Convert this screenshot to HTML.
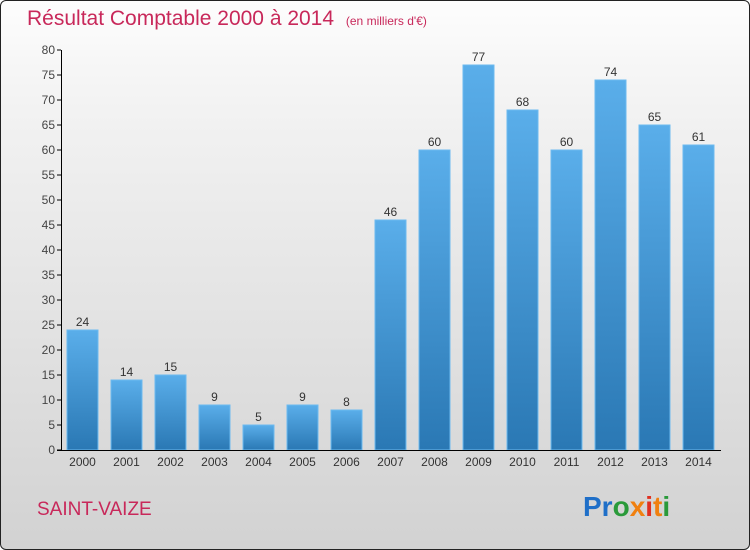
<!DOCTYPE html>
<html><head><meta charset="utf-8"><style>
body{margin:0}
#c{position:relative;width:748px;height:548px;border:1px solid #222;border-radius:6px;background:linear-gradient(#fdfdfd,#f2f2f2 20%,#d2d2d2);overflow:hidden;font-family:"Liberation Sans",sans-serif}
</style></head><body>
<div id="c">
<svg width="748" height="548" id="svg">
<defs><linearGradient id="bg" x1="0" y1="0" x2="0" y2="1"><stop offset="0" stop-color="#5aaeea"/><stop offset="1" stop-color="#2a78b4"/></linearGradient></defs>
<text x="26" y="24" font-size="21" fill="#c8285a">Résultat Comptable 2000 à 2014 <tspan font-size="12" dx="6">(en milliers d'€)</tspan></text>
<text x="36" y="514" font-size="19" fill="#c8285a">SAINT-VAIZE</text>
<text x="582" y="515" font-size="28" font-weight="bold"><tspan fill="#1f6fc8">Pr</tspan><tspan fill="#2a9a3a">o</tspan><tspan fill="#f08010">x</tspan><tspan fill="#1f6fc8"></tspan><tspan fill="#e03020">i</tspan><tspan fill="#f08010">t</tspan><tspan fill="#2a9a3a">i</tspan></text>
<g id="g"></g>
</svg></div>
<script>
const years=["2000","2001","2002","2003","2004","2005","2006","2007","2008","2009","2010","2011","2012","2013","2014"];
const values=[24,14,15,9,5,9,8,46,60,77,68,60,74,65,61];
const yTicks=[0,5,10,15,20,25,30,35,40,45,50,55,60,65,70,75,80];
const NS="http://www.w3.org/2000/svg",g=document.getElementById('g');
const y=v=>449-v*5, x=i=>66+i*44;
function mk(t,a){const e=document.createElementNS(NS,t);for(const k in a)e.setAttribute(k,a[k]);g.appendChild(e);return e;}
yTicks.forEach(t=>{
 const l=mk('line',{x1:56,x2:60,y1:y(t),y2:y(t),stroke:'#000'});
 
 
 const tx=mk('text',{x:54,y:y(t)+4,'font-size':12,fill:'#444','text-anchor':'end'});tx.textContent=t;
 
 
});
values.forEach((v,i)=>{
 const r=mk('rect',{x:x(i),y:y(v),width:31,height:v*5,fill:'url(#bg)',stroke:'#6cbaf0','stroke-width':1});
 
 
 const t=mk('text',{x:x(i)+15.5,y:y(v)-4,'font-size':12,fill:'#333','text-anchor':'middle'});t.textContent=v;
 
 
 const xl=mk('text',{x:x(i)+15.5,y:465,'font-size':12,fill:'#333','text-anchor':'middle'});xl.textContent=years[i];
 
 
});
const ya=mk('line',{x1:60.5,x2:60.5,y1:y(80),y2:449.5,stroke:'#000'});


const xa=mk('line',{x1:56,x2:720,y1:449.5,y2:449.5,stroke:'#000'});


</script>
</body></html>
